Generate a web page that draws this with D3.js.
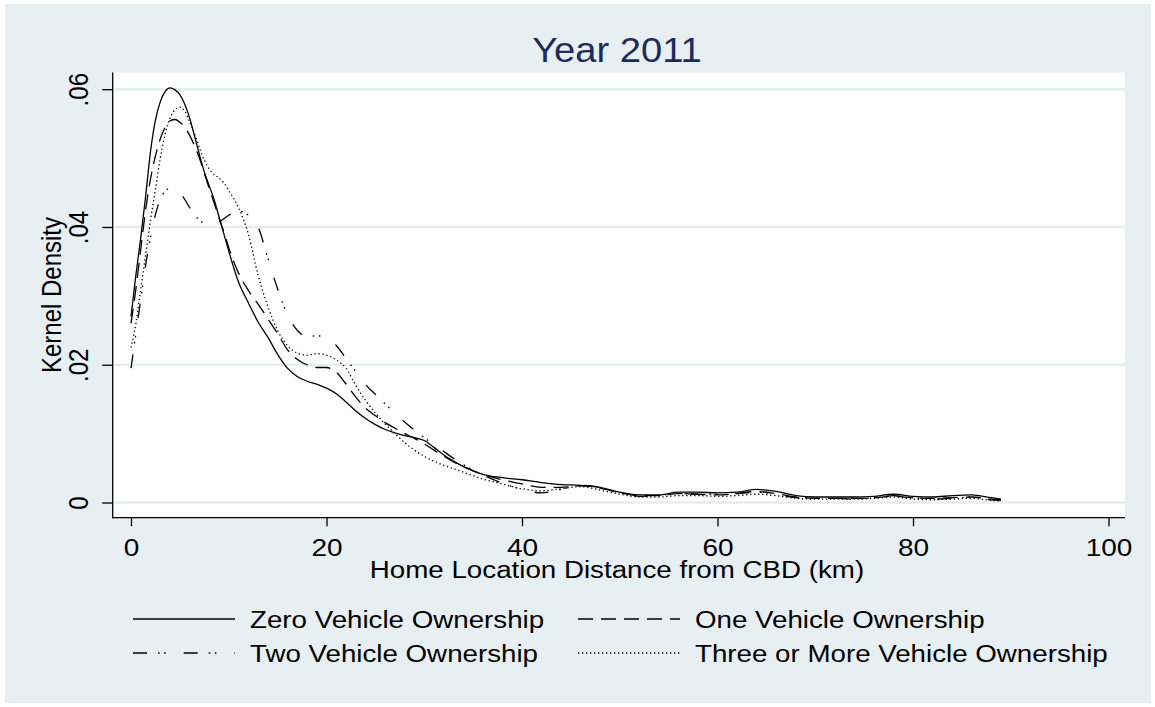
<!DOCTYPE html>
<html>
<head>
<meta charset="utf-8">
<script src="https://cdn.jsdelivr.net/npm/d3@7"></script>
<style>
  html, body { margin: 0; padding: 0; background: #ffffff; }
  svg { display: block; }
  text { font-family: "Liberation Sans", Arial, sans-serif; }
</style>
</head>
<body>
<svg id="chart" width="1155" height="707"></svg>
<script>
// Kernel density estimates of home location distance from the CBD, 2011
const distanceKm = [
  0, 0.5, 1, 1.5, 2, 2.5, 3, 3.5, 4, 4.5, 5, 5.5, 6, 6.5, 7, 7.5, 8, 8.5, 9, 9.5, 10,
  11, 12, 13, 14, 15, 16, 17, 18, 19, 20,
  21, 22, 23, 24, 25, 26, 27, 28, 29, 30,
  31, 32, 33, 34, 35, 36,
  38, 40, 42, 44, 46, 48, 50,
  52, 54, 56, 58, 60, 62, 64, 66, 68, 70,
  72, 74, 76, 78, 80, 82, 84, 86, 88, 89
];

const zeroVehicle = [
  0.0270, 0.0330, 0.0385, 0.0445, 0.0510, 0.0555, 0.0582, 0.0597, 0.0602, 0.0599, 0.0592, 0.0578, 0.0558, 0.0532, 0.0505, 0.0480, 0.0460, 0.0440, 0.0415, 0.0390, 0.0365,
  0.0320, 0.0290, 0.0262, 0.0240, 0.0215, 0.0195, 0.0183, 0.0176, 0.0172, 0.0166,
  0.0158, 0.0146, 0.0133, 0.0122, 0.0113, 0.0106, 0.0101, 0.0097, 0.0094, 0.0090,
  0.0080, 0.0069, 0.0060, 0.0052, 0.0046, 0.0041,
  0.0036, 0.0033, 0.0029, 0.0026, 0.0025, 0.0022, 0.0015,
  0.0011, 0.0011, 0.0015, 0.0015, 0.0014, 0.0015, 0.0019, 0.0016, 0.0010, 0.0008,
  0.0008, 0.0008, 0.0009, 0.0012, 0.0009, 0.0008, 0.0010, 0.0011, 0.0007, 0.0005
];

const oneVehicle = [
  0.0260, 0.0310, 0.0368, 0.0425, 0.0470, 0.0503, 0.0528, 0.0545, 0.0554, 0.0556, 0.0552, 0.0545, 0.0533, 0.0518, 0.0500, 0.0478, 0.0456, 0.0435, 0.0413, 0.0393, 0.0370,
  0.0333, 0.0308, 0.0288, 0.0267, 0.0245, 0.0222, 0.0208, 0.0200, 0.0196, 0.0196,
  0.0189, 0.0172, 0.0153, 0.0137, 0.0126, 0.0116, 0.0108, 0.0100, 0.0093, 0.0085,
  0.0076, 0.0067, 0.0059, 0.0052, 0.0046, 0.0041,
  0.0033, 0.0027, 0.0022, 0.0022, 0.0024, 0.0021, 0.0014,
  0.0010, 0.0010, 0.0013, 0.0012, 0.0011, 0.0013, 0.0016, 0.0013, 0.0008, 0.0006,
  0.0006, 0.0006, 0.0007, 0.0009, 0.0007, 0.0006, 0.0007, 0.0008, 0.0005, 0.0004
];

const twoVehicle = [
  0.0195, 0.0245, 0.0295, 0.0345, 0.0385, 0.0418, 0.0440, 0.0452, 0.0456, 0.0455, 0.0450, 0.0440, 0.0428, 0.0417, 0.0410, 0.0405, 0.0403, 0.0404, 0.0407, 0.0412, 0.0417,
  0.0423, 0.0417, 0.0400, 0.0355, 0.0310, 0.0273, 0.0250, 0.0241, 0.0242, 0.0240,
  0.0228, 0.0209, 0.0190, 0.0171, 0.0157, 0.0143, 0.0130, 0.0117, 0.0105, 0.0094,
  0.0084, 0.0074, 0.0064, 0.0055, 0.0047, 0.0040,
  0.0028, 0.0019, 0.0014, 0.0019, 0.0025, 0.0022, 0.0014,
  0.0009, 0.0010, 0.0013, 0.0012, 0.0012, 0.0013, 0.0015, 0.0012, 0.0007, 0.0006,
  0.0006, 0.0005, 0.0007, 0.0010, 0.0007, 0.0005, 0.0006, 0.0008, 0.0004, 0.0003
];

const threePlusVehicle = [
  0.0225, 0.0260, 0.0310, 0.0360, 0.0410, 0.0455, 0.0500, 0.0535, 0.0558, 0.0570, 0.0574, 0.0568, 0.0553, 0.0535, 0.0515, 0.0497, 0.0484, 0.0476, 0.0471, 0.0464, 0.0453,
  0.0428, 0.0390, 0.0330, 0.0285, 0.0250, 0.0228, 0.0217, 0.0214, 0.0216, 0.0214,
  0.0207, 0.0195, 0.0170, 0.0148, 0.0130, 0.0114, 0.0100, 0.0087, 0.0076, 0.0067,
  0.0060, 0.0054, 0.0049, 0.0044, 0.0039, 0.0034,
  0.0027, 0.0020, 0.0017, 0.0020, 0.0023, 0.0018, 0.0012,
  0.0008, 0.0008, 0.0010, 0.0010, 0.0009, 0.0010, 0.0012, 0.0010, 0.0006, 0.0005,
  0.0005, 0.0005, 0.0006, 0.0008, 0.0005, 0.0004, 0.0005, 0.0006, 0.0003, 0.0002
];

const xTicks = [0, 20, 40, 60, 80, 100];
const yTicks = [0, 0.02, 0.04, 0.06];
const seriesNames = [
  "Zero Vehicle Ownership",
  "One Vehicle Ownership",
  "Two Vehicle Ownership",
  "Three or More Vehicle Ownership"
];
const chartTitle = "Year 2011";
const xTitle = "Home Location Distance from CBD (km)";
const yTitle = "Kernel Density";

// ---- layout and styles ----
const svg = d3.select("#chart");
const TEXT_SX = 1.19;          // horizontal stretch applied to labels
const BG = "#e8eff2";
const GRID = "#e4edf0";
const plotBox = { left: 113, right: 1125, top: 72.5, bottom: 517.7 };

const x = d3.scaleLinear().domain([0, 100]).range([131, 1108.5]);
const y = d3.scaleLinear().domain([0, 0.06]).range([502.5, 89.2]);

const dashStyles = [null, "15,8", "14,11,1.6,4.5,1.6,18", "1.3,2.7"];

// outer background
svg.append("rect").attr("x", 5).attr("y", 4).attr("width", 1146).attr("height", 699).attr("fill", BG);

// plot region
svg.append("rect")
  .attr("x", plotBox.left).attr("y", plotBox.top)
  .attr("width", plotBox.right - plotBox.left).attr("height", plotBox.bottom - plotBox.top)
  .attr("fill", "#ffffff");

// horizontal grid lines
svg.append("g").selectAll("line").data(yTicks).join("line")
  .attr("x1", plotBox.left + 1).attr("x2", plotBox.right)
  .attr("y1", d => y(d)).attr("y2", d => y(d))
  .attr("stroke", GRID).attr("stroke-width", 2.6);

// density curves
const series = [zeroVehicle, oneVehicle, twoVehicle, threePlusVehicle];
const line = d3.line()
  .x(d => x(d[0]))
  .y(d => y(d[1]))
  .curve(d3.curveMonotoneX);

svg.append("g").selectAll("path").data(series).join("path")
  .attr("d", vals => line(distanceKm.map((k, i) => [k, vals[i]])))
  .attr("fill", "none")
  .attr("stroke", "#000")
  .attr("stroke-width", 1.3)
  .attr("stroke-dasharray", (d, i) => dashStyles[i]);

// x axis
const xAxis = d3.axisBottom(x).tickValues(xTicks).tickFormat(d3.format("d"))
  .tickSize(8.5).tickSizeOuter(0);
const gx = svg.append("g").attr("transform", `translate(0,${plotBox.bottom})`).call(xAxis);
gx.select(".domain").remove();
gx.selectAll(".tick line").attr("stroke", "#000").attr("stroke-width", 1.3);
gx.selectAll(".tick text")
  .attr("y", 38).attr("dy", null)
  .attr("transform", `scale(${TEXT_SX},1)`)
  .attr("font-size", 23.5).attr("fill", "#000")
  .style("font-family", '"Liberation Sans", Arial, sans-serif');

// y axis
const fmtY = d => d === 0 ? "0" : d3.format(".2f")(d).replace(/^0/, "");
const yAxis = d3.axisLeft(y).tickValues(yTicks).tickFormat(fmtY)
  .tickSize(10.5).tickSizeOuter(0);
const gy = svg.append("g").attr("transform", `translate(${plotBox.left - 0.3},0)`).call(yAxis);
gy.select(".domain").remove();
gy.selectAll(".tick line").attr("stroke", "#000").attr("stroke-width", 1.3);
gy.selectAll(".tick text")
  .attr("x", 0).attr("y", -20.5).attr("dy", null)
  .attr("text-anchor", "middle")
  .attr("transform", `scale(${TEXT_SX},1) rotate(-90)`)
  .attr("font-size", 24).attr("fill", "#000")
  .style("font-family", '"Liberation Sans", Arial, sans-serif');

// axis lines
svg.append("line")
  .attr("x1", plotBox.left - 0.3).attr("x2", plotBox.left - 0.3)
  .attr("y1", plotBox.top).attr("y2", plotBox.bottom + 0.6)
  .attr("stroke", "#000").attr("stroke-width", 1.3);
svg.append("line")
  .attr("x1", plotBox.left - 0.9).attr("x2", plotBox.right)
  .attr("y1", plotBox.bottom).attr("y2", plotBox.bottom)
  .attr("stroke", "#000").attr("stroke-width", 1.3);

// titles
svg.append("text")
  .attr("transform", "translate(617,62) scale(1.09,1)")
  .attr("text-anchor", "middle")
  .attr("font-size", 35).attr("fill", "#1c2b5a")
  .text(chartTitle);

svg.append("text")
  .attr("transform", `translate(617,578) scale(${TEXT_SX},1)`)
  .attr("text-anchor", "middle")
  .attr("font-size", 23.3).attr("fill", "#000")
  .text(xTitle);

svg.append("text")
  .attr("transform", `translate(61,295) scale(${TEXT_SX},1) rotate(-90)`)
  .attr("text-anchor", "middle")
  .attr("font-size", 24).attr("fill", "#000")
  .text(yTitle);

// legend
const legendItems = seriesNames.map((name, i) => ({
  name, dash: dashStyles[i],
  keyX: i % 2 === 0 ? 133 : 578,
  rowY: i < 2 ? 619 : 653
}));
const lg = svg.append("g");
lg.selectAll("line").data(legendItems).join("line")
  .attr("x1", d => d.keyX).attr("x2", d => d.keyX + 102)
  .attr("y1", d => d.rowY).attr("y2", d => d.rowY)
  .attr("stroke", "#000").attr("stroke-width", 1.3)
  .attr("stroke-dasharray", d => d.dash);
lg.selectAll("text").data(legendItems).join("text")
  .attr("transform", d => `translate(${d.keyX + 117},${d.rowY + 8.5}) scale(${TEXT_SX},1)`)
  .attr("font-size", 23.3).attr("fill", "#000")
  .text(d => d.name);
</script>
</body>
</html>
